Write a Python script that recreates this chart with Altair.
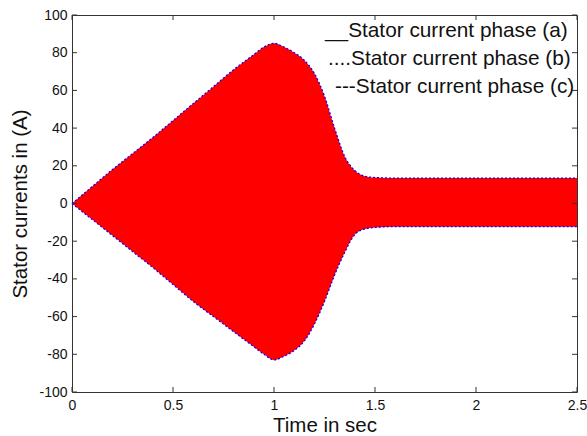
import altair as alt
import pandas as pd

# Envelope of the three-phase stator currents
time_s = [0, 0.1, 0.2, 0.3, 0.4, 0.5, 0.6, 0.7, 0.8, 0.9, 0.95, 1.0, 1.05, 1.1,
          1.15, 1.2, 1.25, 1.3, 1.35, 1.4, 1.45, 1.5, 1.6, 2.0, 2.5]
upper_A = [0, 9, 18, 26.5, 35, 44, 53, 62, 71, 79, 83, 85, 83, 80,
           76, 69, 57, 40, 25, 17.5, 14.5, 13.8, 13.5, 13.5, 13.5]
lower_A = [0, -8.5, -17, -25.5, -34, -43, -52, -60, -68, -76, -80, -83, -81, -78,
           -73, -64, -52, -38, -26, -16.5, -13.5, -12.7, -12.3, -12.3, -12.3]

x_ticks = [0, 0.5, 1, 1.5, 2, 2.5]
y_ticks = [-100, -80, -60, -40, -20, 0, 20, 40, 60, 80, 100]
legend_labels = ["__Stator current phase (a)",
                 "....Stator current phase (b)",
                 "---Stator current phase (c)"]

W, H = 505, 377
FONT = "Liberation Sans"

env = pd.DataFrame({"t": time_s, "up": upper_A, "lo": lower_A})
xt = pd.DataFrame({"t": x_ticks})
yt = pd.DataFrame({"up": y_ticks})

xscale = alt.Scale(domain=[0, 2.5], nice=False, zero=False)
yscale = alt.Scale(domain=[-100, 100], nice=False, zero=False)

xaxis = alt.Axis(values=x_ticks, ticks=False, domain=False, grid=False,
                 labelFontSize=14, labelFont=FONT, labelColor="#111",
                 labelPadding=6, labelFlush=False, labelOverlap=False,
                 labelExpr="'' + datum.value",
                 title="Time in sec", titleFont=FONT, titleFontSize=20.5,
                 titleFontWeight="normal", titleColor="#111", titlePadding=3)
yaxis = alt.Axis(values=y_ticks, ticks=False, domain=False, grid=False,
                 labelFontSize=14, labelFont=FONT, labelColor="#111",
                 labelPadding=5, labelFlush=False, labelOverlap=False,
                 labelExpr="'' + datum.value",
                 title="Stator currents in (A)", titleFont=FONT, titleFontSize=20.5,
                 titleFontWeight="normal", titleColor="#111", titlePadding=8)


def X(field):
    return alt.X(field + ":Q", scale=xscale, axis=xaxis)


def Y(field):
    return alt.Y(field + ":Q", scale=yscale, axis=yaxis)


base = alt.Chart(env)

area = base.mark_area(color="#ff0000", opacity=1, interpolate="monotone").encode(
    x=X("t"), y=Y("up"), y2="lo:Q",
)
top_edge = base.mark_line(color="#0000ff", strokeWidth=1.2, interpolate="monotone",
                          strokeDash=[2, 2]).encode(x=X("t"), y=Y("up"))
bot_edge = base.mark_line(color="#0000ff", strokeWidth=1.2, interpolate="monotone",
                          strokeDash=[2, 2]).encode(x=X("t"), y=Y("lo"))

TICK = 5
tick_col = "#333"
xb = alt.Chart(xt).mark_rule(color=tick_col).encode(
    x=X("t"), y=alt.value(H), y2=alt.value(H - TICK))
xtop = alt.Chart(xt).mark_rule(color=tick_col).encode(
    x=X("t"), y=alt.value(0), y2=alt.value(TICK))
yl = alt.Chart(yt).mark_rule(color=tick_col).encode(
    y=Y("up"), x=alt.value(0), x2=alt.value(TICK))
yr = alt.Chart(yt).mark_rule(color=tick_col).encode(
    y=Y("up"), x=alt.value(W), x2=alt.value(W - TICK))

leg_pos = [(253, 16), (256, 44), (263, 72)]
legend_layers = []
for lab, (px, py) in zip(legend_labels, leg_pos):
    legend_layers.append(
        alt.Chart(pd.DataFrame({"s": [lab]})).mark_text(
            align="left", baseline="middle", font=FONT, fontSize=20.8, color="#111"
        ).encode(x=alt.value(px), y=alt.value(py), text="s:N")
    )

chart = alt.layer(area, top_edge, bot_edge, xb, xtop, yl, yr, *legend_layers).properties(
    width=W, height=H,
    autosize=alt.AutoSizeParams(type="none"),
    padding={"left": 72, "top": 15, "right": 10, "bottom": 44},
    background="white",
).configure_view(stroke="#333", strokeWidth=1)

chart.save("out.html", embed_options={"renderer": "svg", "actions": False})
